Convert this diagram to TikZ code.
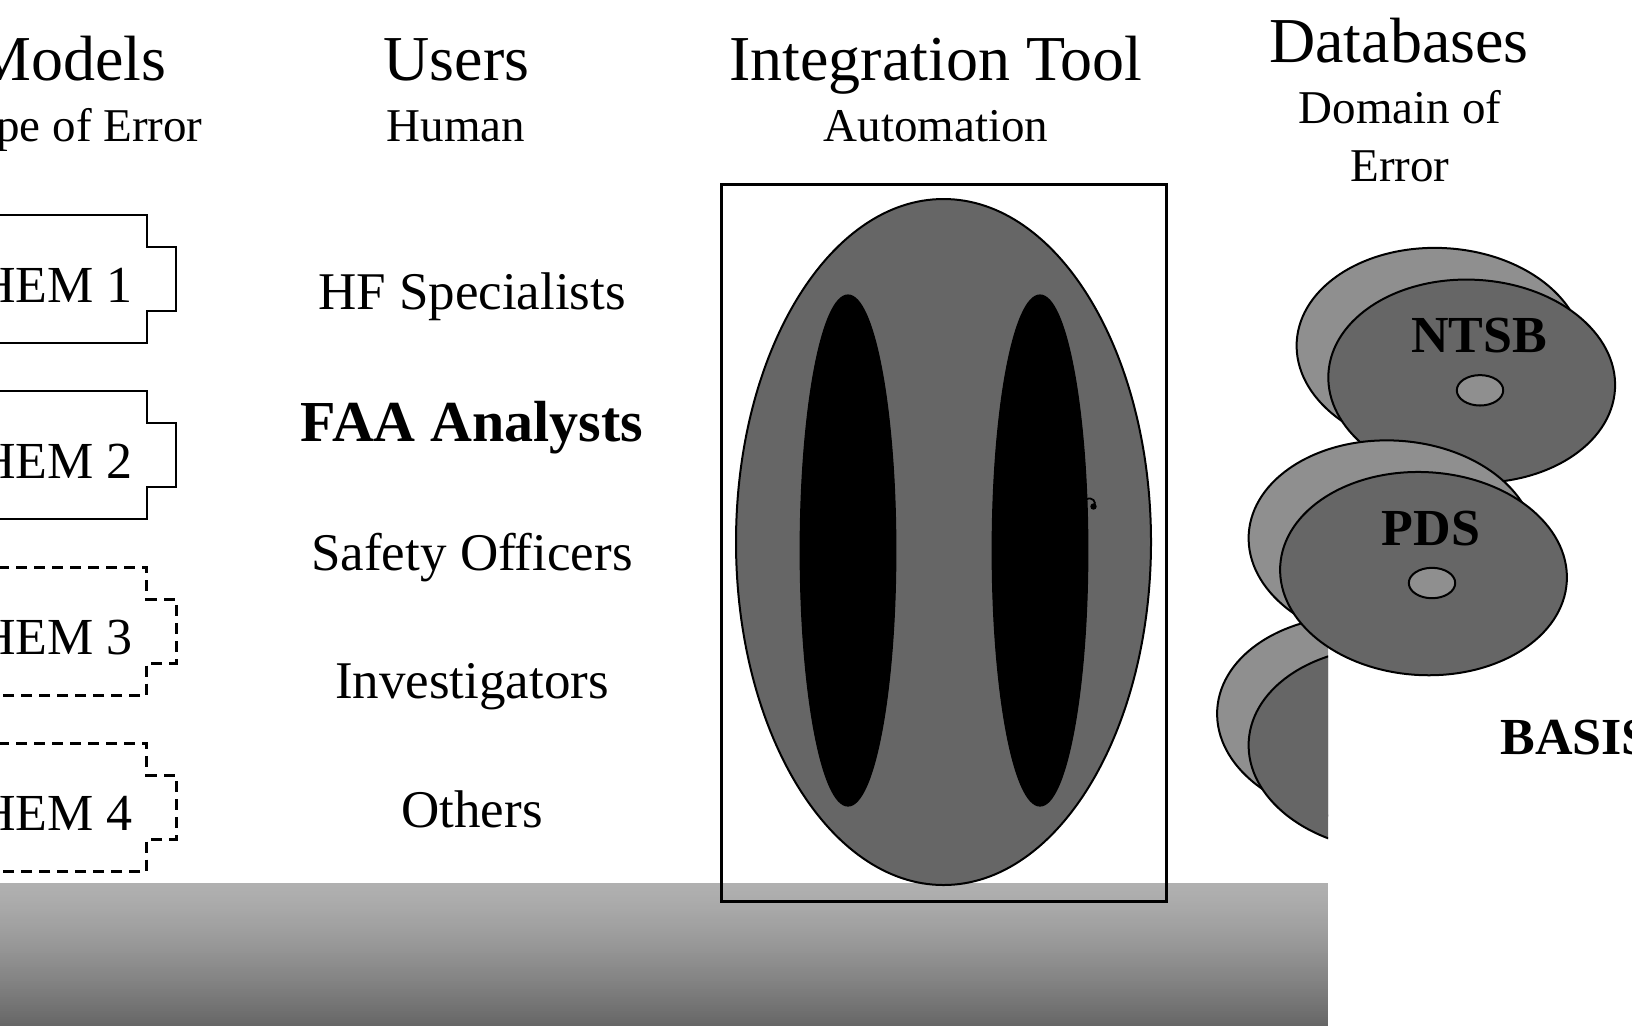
\documentclass[tikz,border=0pt]{standalone}
\usepackage{fontspec}
\setmainfont{Liberation Serif}
\definecolor{toolgray}{RGB}{102,102,102}
\definecolor{diskfront}{RGB}{102,102,102}
\definecolor{diskback}{RGB}{143,143,143}
\begin{document}
\begin{tikzpicture}[x=0.5pt,y=-0.5pt,
  title/.style={font=\fontsize{32}{38}\selectfont, inner sep=0, anchor=base},
  subtitle/.style={font=\fontsize{23.5}{28}\selectfont, inner sep=0, anchor=base},
  item/.style={font=\fontsize{26.5}{32}\selectfont, inner sep=0, anchor=base},
  itembold/.style={font=\bfseries\fontsize{29}{34}\selectfont, inner sep=0, anchor=base},
  hemlabel/.style={font=\fontsize{26}{31}\selectfont, inner sep=0, anchor=base east},
  disklabel/.style={font=\bfseries\fontsize{26}{31}\selectfont, inner sep=0, anchor=base},
  hemsolid/.style={line width=1.2pt, line join=miter},
  hemdashed/.style={line width=1.5pt, dash pattern=on 5.5pt off 3.5pt},
  outline/.style={draw=black, line width=1pt},
  toolframe/.style={draw=black, line width=1.5pt}
]
\useasboundingbox (0,0) rectangle (1632,1025);
\clip (0,0) rectangle (1632,1025);

% ground band with a vertical gradient
\foreach \i in {0,...,71} {
  \pgfmathsetmacro\g{0.69-0.29*(\i/71)^1.3}
  \definecolor{stripcol}{gray}{\g}
  \fill[stripcol] (0,{883+2*\i}) rectangle (1328,{883+2*\i+2.2});
}

% column headings
\node[title, anchor=base east] (models) at (167,80) {Models};
\node[subtitle, anchor=base east] (typeerr) at (203,141.5) {Type of Error};
\node[title] (users) at (456.5,80) {Users};
\node[subtitle] (human) at (456,141.5) {Human};
\node[title] (tool) at (936,80) {Integration Tool};
\node[subtitle] (automation) at (936,141.5) {Automation};
\node[title] (dbs) at (1399,62) {Databases};
\node[subtitle] (domain) at (1400,123.5) {Domain of};
\node[subtitle] (errorlbl) at (1400,181.5) {Error};

% error models
\foreach \t/\n/\sty in {215/1/hemsolid, 391/2/hemsolid, 567/3/hemdashed, 743/4/hemdashed} {
  \draw[\sty] (-20,\t) -- (146.7,\t) -- (146.7,\t+32) -- (176,\t+32) -- (176,\t+96)
     -- (146.7,\t+96) -- (146.7,\t+128) -- (-20,\t+128);
  \node[hemlabel] (hem\n) at (133,\t+87.5) {HEM \n};
}

% users
\node[item] (hf) at (472,309) {HF Specialists};
\node[itembold] (faa) at (472,441) {FAA Analysts};
\node[item] (safety) at (472,570) {Safety Officers};
\node[item] (invest) at (472,698) {Investigators};
\node[item] (others) at (472,827.5) {Others};

% integration tool
\draw[outline, fill=toolgray] (943.5,542) ellipse [x radius=207.5, y radius=343];
\draw[fill=black, draw=black, line width=0.6pt] (848,550.5) ellipse [x radius=47.8, y radius=255.5];
\draw[fill=black, draw=black, line width=0.6pt] (1040,550.5) ellipse [x radius=47.8, y radius=255.5];
\draw[line width=0.9pt] (1086,499.5) .. controls (1092,496) and (1097,502) .. (1094,506);
\fill (1093.5,506.5) circle [radius=3.2];
\draw[toolframe] (721,184) rectangle (1166.5,901);

% databases
\begin{scope}
  \clip (0,0) rectangle (1328,1025);
  \draw[outline, fill=diskback] (1360.5,717.5) ellipse [x radius=143.5, y radius=101.5, rotate=-3];
  \draw[outline, fill=diskfront] (1392,749) ellipse [x radius=143.5, y radius=101.5, rotate=-3];
\end{scope}
\node[disklabel, anchor=base west] (basis) at (1500,754) {BASIS};

\draw[outline, fill=diskback] (1440,349.5) ellipse [x radius=143.5, y radius=101.5, rotate=-3];
\draw[outline, fill=diskfront] (1471.7,381.2) ellipse [x radius=143.5, y radius=101.5, rotate=-3];
\draw[outline, fill=diskback] (1480,390.3) ellipse [x radius=23.2, y radius=15.2];
\node[disklabel] (ntsb) at (1479,352.5) {NTSB};

\draw[outline, fill=diskback] (1392,542) ellipse [x radius=143.5, y radius=101.5, rotate=-3];
\draw[outline, fill=diskfront] (1423.5,573.6) ellipse [x radius=143.5, y radius=101.5, rotate=-3];
\draw[outline, fill=diskback] (1432,583) ellipse [x radius=23.2, y radius=15.2];
\node[disklabel] (pds) at (1431,545) {PDS};
\end{tikzpicture}
\end{document}
